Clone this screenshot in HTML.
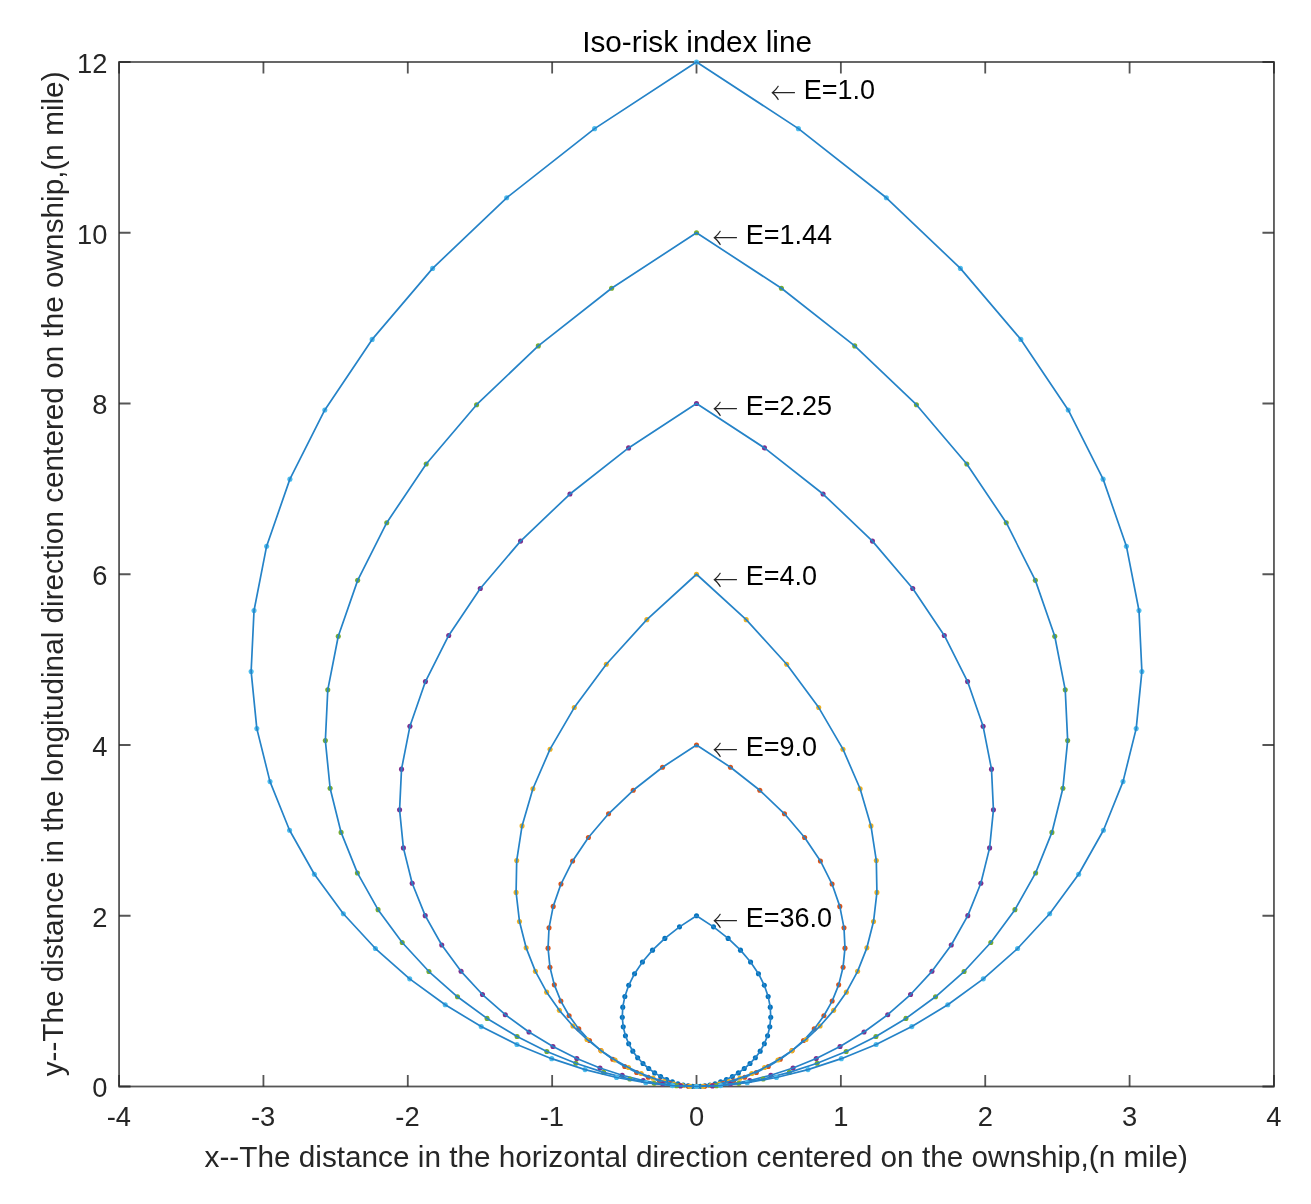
<!DOCTYPE html>
<html lang="en"><head><meta charset="utf-8"><title>Iso-risk index line</title>
<style>html,body{margin:0;padding:0;background:#fff}svg{display:block}</style></head>
<body>
<svg width="1311" height="1204" viewBox="0 0 1311 1204">
<rect width="1311" height="1204" fill="#fff"/>
<g stroke="#262626" stroke-opacity="0.78" stroke-width="1.8" fill="none" stroke-linecap="butt">
<rect x="119.07" y="62.00" width="1154.88" height="1024.50"/>
<path d="M119.07 1086.50v-11.50M119.07 62.00v11.50M263.43 1086.50v-11.50M263.43 62.00v11.50M407.79 1086.50v-11.50M407.79 62.00v11.50M552.15 1086.50v-11.50M552.15 62.00v11.50M696.51 1086.50v-11.50M696.51 62.00v11.50M840.87 1086.50v-11.50M840.87 62.00v11.50M985.23 1086.50v-11.50M985.23 62.00v11.50M1129.59 1086.50v-11.50M1129.59 62.00v11.50M1273.95 1086.50v-11.50M1273.95 62.00v11.50M119.07 1086.50h11.50M1273.95 1086.50h-11.50M119.07 915.75h11.50M1273.95 915.75h-11.50M119.07 745.00h11.50M1273.95 745.00h-11.50M119.07 574.25h11.50M1273.95 574.25h-11.50M119.07 403.50h11.50M1273.95 403.50h-11.50M119.07 232.75h11.50M1273.95 232.75h-11.50M119.07 62.00h11.50M1273.95 62.00h-11.50"/>
</g>
<g fill="#0072BD"><circle cx="696.51" cy="1086.50" r="2.55"/><circle cx="692.51" cy="1086.35" r="2.55"/><circle cx="688.05" cy="1085.87" r="2.55"/><circle cx="683.18" cy="1085.00" r="2.55"/><circle cx="677.93" cy="1083.68" r="2.55"/><circle cx="672.37" cy="1081.86" r="2.55"/><circle cx="666.57" cy="1079.49" r="2.55"/><circle cx="660.62" cy="1076.51" r="2.55"/><circle cx="654.63" cy="1072.88" r="2.55"/><circle cx="648.71" cy="1068.56" r="2.55"/><circle cx="643.00" cy="1063.51" r="2.55"/><circle cx="637.65" cy="1057.70" r="2.55"/><circle cx="632.82" cy="1051.13" r="2.55"/><circle cx="628.69" cy="1043.79" r="2.55"/><circle cx="625.43" cy="1035.68" r="2.55"/><circle cx="623.23" cy="1026.85" r="2.55"/><circle cx="622.28" cy="1017.32" r="2.55"/><circle cx="622.76" cy="1007.17" r="2.55"/><circle cx="624.86" cy="996.45" r="2.55"/><circle cx="628.74" cy="985.27" r="2.55"/><circle cx="634.56" cy="973.74" r="2.55"/><circle cx="642.45" cy="961.99" r="2.55"/><circle cx="652.53" cy="950.15" r="2.55"/><circle cx="664.87" cy="938.38" r="2.55"/><circle cx="679.53" cy="926.86" r="2.55"/><circle cx="696.51" cy="915.75" r="2.55"/><circle cx="713.49" cy="926.86" r="2.55"/><circle cx="728.15" cy="938.38" r="2.55"/><circle cx="740.49" cy="950.15" r="2.55"/><circle cx="750.57" cy="961.99" r="2.55"/><circle cx="758.46" cy="973.74" r="2.55"/><circle cx="764.28" cy="985.27" r="2.55"/><circle cx="768.16" cy="996.45" r="2.55"/><circle cx="770.26" cy="1007.17" r="2.55"/><circle cx="770.74" cy="1017.32" r="2.55"/><circle cx="769.79" cy="1026.85" r="2.55"/><circle cx="767.59" cy="1035.68" r="2.55"/><circle cx="764.33" cy="1043.79" r="2.55"/><circle cx="760.20" cy="1051.13" r="2.55"/><circle cx="755.37" cy="1057.70" r="2.55"/><circle cx="750.02" cy="1063.51" r="2.55"/><circle cx="744.31" cy="1068.56" r="2.55"/><circle cx="738.39" cy="1072.88" r="2.55"/><circle cx="732.40" cy="1076.51" r="2.55"/><circle cx="726.45" cy="1079.49" r="2.55"/><circle cx="720.65" cy="1081.86" r="2.55"/><circle cx="715.09" cy="1083.68" r="2.55"/><circle cx="709.84" cy="1085.00" r="2.55"/><circle cx="704.97" cy="1085.87" r="2.55"/><circle cx="700.51" cy="1086.35" r="2.55"/><circle cx="696.51" cy="1086.50" r="2.55"/></g>
<polyline fill="none" stroke="#2583c8" stroke-width="1.7" stroke-linejoin="round" points="696.51,1086.50 692.51,1086.35 688.05,1085.87 683.18,1085.00 677.93,1083.68 672.37,1081.86 666.57,1079.49 660.62,1076.51 654.63,1072.88 648.71,1068.56 643.00,1063.51 637.65,1057.70 632.82,1051.13 628.69,1043.79 625.43,1035.68 623.23,1026.85 622.28,1017.32 622.76,1007.17 624.86,996.45 628.74,985.27 634.56,973.74 642.45,961.99 652.53,950.15 664.87,938.38 679.53,926.86 696.51,915.75 713.49,926.86 728.15,938.38 740.49,950.15 750.57,961.99 758.46,973.74 764.28,985.27 768.16,996.45 770.26,1007.17 770.74,1017.32 769.79,1026.85 767.59,1035.68 764.33,1043.79 760.20,1051.13 755.37,1057.70 750.02,1063.51 744.31,1068.56 738.39,1072.88 732.40,1076.51 726.45,1079.49 720.65,1081.86 715.09,1083.68 709.84,1085.00 704.97,1085.87 700.51,1086.35 696.51,1086.50"/>
<g fill="#D95319"><circle cx="696.51" cy="1086.50" r="2.55"/><circle cx="688.50" cy="1086.20" r="2.55"/><circle cx="679.59" cy="1085.24" r="2.55"/><circle cx="669.85" cy="1083.49" r="2.55"/><circle cx="659.36" cy="1080.86" r="2.55"/><circle cx="648.24" cy="1077.22" r="2.55"/><circle cx="636.64" cy="1072.48" r="2.55"/><circle cx="624.74" cy="1066.53" r="2.55"/><circle cx="612.75" cy="1059.27" r="2.55"/><circle cx="600.90" cy="1050.62" r="2.55"/><circle cx="589.48" cy="1040.51" r="2.55"/><circle cx="578.78" cy="1028.90" r="2.55"/><circle cx="569.13" cy="1015.76" r="2.55"/><circle cx="560.86" cy="1001.07" r="2.55"/><circle cx="554.34" cy="984.87" r="2.55"/><circle cx="549.95" cy="967.20" r="2.55"/><circle cx="548.05" cy="948.15" r="2.55"/><circle cx="549.02" cy="927.83" r="2.55"/><circle cx="553.21" cy="906.40" r="2.55"/><circle cx="560.97" cy="884.05" r="2.55"/><circle cx="572.61" cy="860.99" r="2.55"/><circle cx="588.40" cy="837.47" r="2.55"/><circle cx="608.55" cy="813.79" r="2.55"/><circle cx="633.23" cy="790.26" r="2.55"/><circle cx="662.54" cy="767.21" r="2.55"/><circle cx="696.51" cy="745.00" r="2.55"/><circle cx="730.48" cy="767.21" r="2.55"/><circle cx="759.79" cy="790.26" r="2.55"/><circle cx="784.47" cy="813.79" r="2.55"/><circle cx="804.62" cy="837.47" r="2.55"/><circle cx="820.41" cy="860.99" r="2.55"/><circle cx="832.05" cy="884.05" r="2.55"/><circle cx="839.81" cy="906.40" r="2.55"/><circle cx="844.00" cy="927.83" r="2.55"/><circle cx="844.97" cy="948.15" r="2.55"/><circle cx="843.07" cy="967.20" r="2.55"/><circle cx="838.68" cy="984.87" r="2.55"/><circle cx="832.16" cy="1001.07" r="2.55"/><circle cx="823.89" cy="1015.76" r="2.55"/><circle cx="814.24" cy="1028.90" r="2.55"/><circle cx="803.54" cy="1040.51" r="2.55"/><circle cx="792.12" cy="1050.62" r="2.55"/><circle cx="780.27" cy="1059.27" r="2.55"/><circle cx="768.28" cy="1066.53" r="2.55"/><circle cx="756.38" cy="1072.48" r="2.55"/><circle cx="744.78" cy="1077.22" r="2.55"/><circle cx="733.66" cy="1080.86" r="2.55"/><circle cx="723.17" cy="1083.49" r="2.55"/><circle cx="713.43" cy="1085.24" r="2.55"/><circle cx="704.52" cy="1086.20" r="2.55"/><circle cx="696.51" cy="1086.50" r="2.55"/></g>
<polyline fill="none" stroke="#2583c8" stroke-width="1.7" stroke-linejoin="round" points="696.51,1086.50 688.50,1086.20 679.59,1085.24 669.85,1083.49 659.36,1080.86 648.24,1077.22 636.64,1072.48 624.74,1066.53 612.75,1059.27 600.90,1050.62 589.48,1040.51 578.78,1028.90 569.13,1015.76 560.86,1001.07 554.34,984.87 549.95,967.20 548.05,948.15 549.02,927.83 553.21,906.40 560.97,884.05 572.61,860.99 588.40,837.47 608.55,813.79 633.23,790.26 662.54,767.21 696.51,745.00 730.48,767.21 759.79,790.26 784.47,813.79 804.62,837.47 820.41,860.99 832.05,884.05 839.81,906.40 844.00,927.83 844.97,948.15 843.07,967.20 838.68,984.87 832.16,1001.07 823.89,1015.76 814.24,1028.90 803.54,1040.51 792.12,1050.62 780.27,1059.27 768.28,1066.53 756.38,1072.48 744.78,1077.22 733.66,1080.86 723.17,1083.49 713.43,1085.24 704.52,1086.20 696.51,1086.50"/>
<g fill="#EDB120"><circle cx="696.51" cy="1086.50" r="2.55"/><circle cx="690.00" cy="1086.26" r="2.55"/><circle cx="682.39" cy="1085.45" r="2.55"/><circle cx="673.69" cy="1083.93" r="2.55"/><circle cx="663.89" cy="1081.55" r="2.55"/><circle cx="653.03" cy="1078.14" r="2.55"/><circle cx="641.19" cy="1073.55" r="2.55"/><circle cx="628.48" cy="1067.57" r="2.55"/><circle cx="615.06" cy="1060.02" r="2.55"/><circle cx="601.15" cy="1050.71" r="2.55"/><circle cx="587.00" cy="1039.44" r="2.55"/><circle cx="572.94" cy="1026.04" r="2.55"/><circle cx="559.35" cy="1010.33" r="2.55"/><circle cx="546.68" cy="992.14" r="2.55"/><circle cx="535.42" cy="971.34" r="2.55"/><circle cx="526.15" cy="947.83" r="2.55"/><circle cx="519.49" cy="921.53" r="2.55"/><circle cx="516.10" cy="892.42" r="2.55"/><circle cx="516.70" cy="860.52" r="2.55"/><circle cx="522.05" cy="825.90" r="2.55"/><circle cx="532.91" cy="788.72" r="2.55"/><circle cx="550.06" cy="749.18" r="2.55"/><circle cx="574.28" cy="707.57" r="2.55"/><circle cx="606.31" cy="664.24" r="2.55"/><circle cx="646.84" cy="619.63" r="2.55"/><circle cx="696.51" cy="574.25" r="2.55"/><circle cx="746.18" cy="619.63" r="2.55"/><circle cx="786.71" cy="664.24" r="2.55"/><circle cx="818.74" cy="707.57" r="2.55"/><circle cx="842.96" cy="749.18" r="2.55"/><circle cx="860.11" cy="788.72" r="2.55"/><circle cx="870.97" cy="825.90" r="2.55"/><circle cx="876.32" cy="860.52" r="2.55"/><circle cx="876.92" cy="892.42" r="2.55"/><circle cx="873.53" cy="921.53" r="2.55"/><circle cx="866.87" cy="947.83" r="2.55"/><circle cx="857.60" cy="971.34" r="2.55"/><circle cx="846.34" cy="992.14" r="2.55"/><circle cx="833.67" cy="1010.33" r="2.55"/><circle cx="820.08" cy="1026.04" r="2.55"/><circle cx="806.02" cy="1039.44" r="2.55"/><circle cx="791.87" cy="1050.71" r="2.55"/><circle cx="777.96" cy="1060.02" r="2.55"/><circle cx="764.54" cy="1067.57" r="2.55"/><circle cx="751.83" cy="1073.55" r="2.55"/><circle cx="739.99" cy="1078.14" r="2.55"/><circle cx="729.13" cy="1081.55" r="2.55"/><circle cx="719.33" cy="1083.93" r="2.55"/><circle cx="710.63" cy="1085.45" r="2.55"/><circle cx="703.02" cy="1086.26" r="2.55"/><circle cx="696.51" cy="1086.50" r="2.55"/></g>
<polyline fill="none" stroke="#2583c8" stroke-width="1.7" stroke-linejoin="round" points="696.51,1086.50 690.00,1086.26 682.39,1085.45 673.69,1083.93 663.89,1081.55 653.03,1078.14 641.19,1073.55 628.48,1067.57 615.06,1060.02 601.15,1050.71 587.00,1039.44 572.94,1026.04 559.35,1010.33 546.68,992.14 535.42,971.34 526.15,947.83 519.49,921.53 516.10,892.42 516.70,860.52 522.05,825.90 532.91,788.72 550.06,749.18 574.28,707.57 606.31,664.24 646.84,619.63 696.51,574.25 746.18,619.63 786.71,664.24 818.74,707.57 842.96,749.18 860.11,788.72 870.97,825.90 876.32,860.52 876.92,892.42 873.53,921.53 866.87,947.83 857.60,971.34 846.34,992.14 833.67,1010.33 820.08,1026.04 806.02,1039.44 791.87,1050.71 777.96,1060.02 764.54,1067.57 751.83,1073.55 739.99,1078.14 729.13,1081.55 719.33,1083.93 710.63,1085.45 703.02,1086.26 696.51,1086.50"/>
<g fill="#7E2F8E"><circle cx="696.51" cy="1086.50" r="2.55"/><circle cx="680.49" cy="1085.90" r="2.55"/><circle cx="662.68" cy="1083.97" r="2.55"/><circle cx="643.19" cy="1080.48" r="2.55"/><circle cx="622.21" cy="1075.22" r="2.55"/><circle cx="599.97" cy="1067.95" r="2.55"/><circle cx="576.77" cy="1058.46" r="2.55"/><circle cx="552.96" cy="1046.55" r="2.55"/><circle cx="528.98" cy="1032.03" r="2.55"/><circle cx="505.30" cy="1014.73" r="2.55"/><circle cx="482.46" cy="994.53" r="2.55"/><circle cx="461.06" cy="971.31" r="2.55"/><circle cx="441.75" cy="945.01" r="2.55"/><circle cx="425.21" cy="915.64" r="2.55"/><circle cx="412.18" cy="883.24" r="2.55"/><circle cx="403.39" cy="847.90" r="2.55"/><circle cx="399.59" cy="809.80" r="2.55"/><circle cx="401.52" cy="769.16" r="2.55"/><circle cx="409.91" cy="726.31" r="2.55"/><circle cx="425.44" cy="681.59" r="2.55"/><circle cx="448.71" cy="635.47" r="2.55"/><circle cx="480.28" cy="588.45" r="2.55"/><circle cx="520.58" cy="541.09" r="2.55"/><circle cx="569.95" cy="494.02" r="2.55"/><circle cx="628.58" cy="447.92" r="2.55"/><circle cx="696.51" cy="403.50" r="2.55"/><circle cx="764.44" cy="447.92" r="2.55"/><circle cx="823.07" cy="494.02" r="2.55"/><circle cx="872.44" cy="541.09" r="2.55"/><circle cx="912.74" cy="588.45" r="2.55"/><circle cx="944.31" cy="635.47" r="2.55"/><circle cx="967.58" cy="681.59" r="2.55"/><circle cx="983.11" cy="726.31" r="2.55"/><circle cx="991.50" cy="769.16" r="2.55"/><circle cx="993.43" cy="809.80" r="2.55"/><circle cx="989.63" cy="847.90" r="2.55"/><circle cx="980.84" cy="883.24" r="2.55"/><circle cx="967.81" cy="915.64" r="2.55"/><circle cx="951.27" cy="945.01" r="2.55"/><circle cx="931.96" cy="971.31" r="2.55"/><circle cx="910.56" cy="994.53" r="2.55"/><circle cx="887.72" cy="1014.73" r="2.55"/><circle cx="864.04" cy="1032.03" r="2.55"/><circle cx="840.06" cy="1046.55" r="2.55"/><circle cx="816.25" cy="1058.46" r="2.55"/><circle cx="793.05" cy="1067.95" r="2.55"/><circle cx="770.81" cy="1075.22" r="2.55"/><circle cx="749.83" cy="1080.48" r="2.55"/><circle cx="730.34" cy="1083.97" r="2.55"/><circle cx="712.53" cy="1085.90" r="2.55"/><circle cx="696.51" cy="1086.50" r="2.55"/></g>
<polyline fill="none" stroke="#2583c8" stroke-width="1.7" stroke-linejoin="round" points="696.51,1086.50 680.49,1085.90 662.68,1083.97 643.19,1080.48 622.21,1075.22 599.97,1067.95 576.77,1058.46 552.96,1046.55 528.98,1032.03 505.30,1014.73 482.46,994.53 461.06,971.31 441.75,945.01 425.21,915.64 412.18,883.24 403.39,847.90 399.59,809.80 401.52,769.16 409.91,726.31 425.44,681.59 448.71,635.47 480.28,588.45 520.58,541.09 569.95,494.02 628.58,447.92 696.51,403.50 764.44,447.92 823.07,494.02 872.44,541.09 912.74,588.45 944.31,635.47 967.58,681.59 983.11,726.31 991.50,769.16 993.43,809.80 989.63,847.90 980.84,883.24 967.81,915.64 951.27,945.01 931.96,971.31 910.56,994.53 887.72,1014.73 864.04,1032.03 840.06,1046.55 816.25,1058.46 793.05,1067.95 770.81,1075.22 749.83,1080.48 730.34,1083.97 712.53,1085.90 696.51,1086.50"/>
<g fill="#77AC30"><circle cx="696.51" cy="1086.50" r="2.55"/><circle cx="676.49" cy="1085.75" r="2.55"/><circle cx="654.22" cy="1083.34" r="2.55"/><circle cx="629.86" cy="1078.98" r="2.55"/><circle cx="603.63" cy="1072.40" r="2.55"/><circle cx="575.83" cy="1063.31" r="2.55"/><circle cx="546.83" cy="1051.45" r="2.55"/><circle cx="517.08" cy="1036.57" r="2.55"/><circle cx="487.10" cy="1018.41" r="2.55"/><circle cx="457.49" cy="996.79" r="2.55"/><circle cx="428.94" cy="971.53" r="2.55"/><circle cx="402.20" cy="942.51" r="2.55"/><circle cx="378.06" cy="909.64" r="2.55"/><circle cx="357.39" cy="872.93" r="2.55"/><circle cx="341.10" cy="832.42" r="2.55"/><circle cx="330.11" cy="788.25" r="2.55"/><circle cx="325.36" cy="740.62" r="2.55"/><circle cx="327.78" cy="689.83" r="2.55"/><circle cx="338.26" cy="636.26" r="2.55"/><circle cx="357.67" cy="580.37" r="2.55"/><circle cx="386.76" cy="522.71" r="2.55"/><circle cx="426.22" cy="463.93" r="2.55"/><circle cx="476.60" cy="404.73" r="2.55"/><circle cx="538.31" cy="345.90" r="2.55"/><circle cx="611.59" cy="288.28" r="2.55"/><circle cx="696.51" cy="232.75" r="2.55"/><circle cx="781.43" cy="288.28" r="2.55"/><circle cx="854.71" cy="345.90" r="2.55"/><circle cx="916.42" cy="404.73" r="2.55"/><circle cx="966.80" cy="463.93" r="2.55"/><circle cx="1006.26" cy="522.71" r="2.55"/><circle cx="1035.35" cy="580.37" r="2.55"/><circle cx="1054.76" cy="636.26" r="2.55"/><circle cx="1065.24" cy="689.83" r="2.55"/><circle cx="1067.66" cy="740.62" r="2.55"/><circle cx="1062.91" cy="788.25" r="2.55"/><circle cx="1051.92" cy="832.42" r="2.55"/><circle cx="1035.63" cy="872.93" r="2.55"/><circle cx="1014.96" cy="909.64" r="2.55"/><circle cx="990.82" cy="942.51" r="2.55"/><circle cx="964.08" cy="971.53" r="2.55"/><circle cx="935.53" cy="996.79" r="2.55"/><circle cx="905.92" cy="1018.41" r="2.55"/><circle cx="875.94" cy="1036.57" r="2.55"/><circle cx="846.19" cy="1051.45" r="2.55"/><circle cx="817.19" cy="1063.31" r="2.55"/><circle cx="789.39" cy="1072.40" r="2.55"/><circle cx="763.16" cy="1078.98" r="2.55"/><circle cx="738.80" cy="1083.34" r="2.55"/><circle cx="716.53" cy="1085.75" r="2.55"/><circle cx="696.51" cy="1086.50" r="2.55"/></g>
<polyline fill="none" stroke="#2583c8" stroke-width="1.7" stroke-linejoin="round" points="696.51,1086.50 676.49,1085.75 654.22,1083.34 629.86,1078.98 603.63,1072.40 575.83,1063.31 546.83,1051.45 517.08,1036.57 487.10,1018.41 457.49,996.79 428.94,971.53 402.20,942.51 378.06,909.64 357.39,872.93 341.10,832.42 330.11,788.25 325.36,740.62 327.78,689.83 338.26,636.26 357.67,580.37 386.76,522.71 426.22,463.93 476.60,404.73 538.31,345.90 611.59,288.28 696.51,232.75 781.43,288.28 854.71,345.90 916.42,404.73 966.80,463.93 1006.26,522.71 1035.35,580.37 1054.76,636.26 1065.24,689.83 1067.66,740.62 1062.91,788.25 1051.92,832.42 1035.63,872.93 1014.96,909.64 990.82,942.51 964.08,971.53 935.53,996.79 905.92,1018.41 875.94,1036.57 846.19,1051.45 817.19,1063.31 789.39,1072.40 763.16,1078.98 738.80,1083.34 716.53,1085.75 696.51,1086.50"/>
<g fill="#4DBEEE"><circle cx="696.51" cy="1086.50" r="2.55"/><circle cx="672.48" cy="1085.61" r="2.55"/><circle cx="645.76" cy="1082.71" r="2.55"/><circle cx="616.53" cy="1077.48" r="2.55"/><circle cx="585.05" cy="1069.58" r="2.55"/><circle cx="551.69" cy="1058.67" r="2.55"/><circle cx="516.90" cy="1044.44" r="2.55"/><circle cx="481.19" cy="1026.58" r="2.55"/><circle cx="445.22" cy="1004.80" r="2.55"/><circle cx="409.69" cy="978.85" r="2.55"/><circle cx="375.43" cy="948.54" r="2.55"/><circle cx="343.33" cy="913.71" r="2.55"/><circle cx="314.37" cy="874.27" r="2.55"/><circle cx="289.57" cy="830.21" r="2.55"/><circle cx="270.01" cy="781.61" r="2.55"/><circle cx="256.83" cy="728.60" r="2.55"/><circle cx="251.13" cy="671.45" r="2.55"/><circle cx="254.03" cy="610.50" r="2.55"/><circle cx="266.62" cy="546.21" r="2.55"/><circle cx="289.90" cy="479.14" r="2.55"/><circle cx="324.81" cy="409.96" r="2.55"/><circle cx="372.17" cy="339.42" r="2.55"/><circle cx="432.62" cy="268.38" r="2.55"/><circle cx="506.67" cy="197.78" r="2.55"/><circle cx="594.61" cy="128.63" r="2.55"/><circle cx="696.51" cy="62.00" r="2.55"/><circle cx="798.41" cy="128.63" r="2.55"/><circle cx="886.35" cy="197.78" r="2.55"/><circle cx="960.40" cy="268.38" r="2.55"/><circle cx="1020.85" cy="339.42" r="2.55"/><circle cx="1068.21" cy="409.96" r="2.55"/><circle cx="1103.12" cy="479.14" r="2.55"/><circle cx="1126.40" cy="546.21" r="2.55"/><circle cx="1138.99" cy="610.50" r="2.55"/><circle cx="1141.89" cy="671.45" r="2.55"/><circle cx="1136.19" cy="728.60" r="2.55"/><circle cx="1123.01" cy="781.61" r="2.55"/><circle cx="1103.45" cy="830.21" r="2.55"/><circle cx="1078.65" cy="874.27" r="2.55"/><circle cx="1049.69" cy="913.71" r="2.55"/><circle cx="1017.59" cy="948.54" r="2.55"/><circle cx="983.33" cy="978.85" r="2.55"/><circle cx="947.80" cy="1004.80" r="2.55"/><circle cx="911.83" cy="1026.58" r="2.55"/><circle cx="876.12" cy="1044.44" r="2.55"/><circle cx="841.33" cy="1058.67" r="2.55"/><circle cx="807.97" cy="1069.58" r="2.55"/><circle cx="776.49" cy="1077.48" r="2.55"/><circle cx="747.26" cy="1082.71" r="2.55"/><circle cx="720.54" cy="1085.61" r="2.55"/><circle cx="696.51" cy="1086.50" r="2.55"/></g>
<polyline fill="none" stroke="#2583c8" stroke-width="1.7" stroke-linejoin="round" points="696.51,1086.50 672.48,1085.61 645.76,1082.71 616.53,1077.48 585.05,1069.58 551.69,1058.67 516.90,1044.44 481.19,1026.58 445.22,1004.80 409.69,978.85 375.43,948.54 343.33,913.71 314.37,874.27 289.57,830.21 270.01,781.61 256.83,728.60 251.13,671.45 254.03,610.50 266.62,546.21 289.90,479.14 324.81,409.96 372.17,339.42 432.62,268.38 506.67,197.78 594.61,128.63 696.51,62.00 798.41,128.63 886.35,197.78 960.40,268.38 1020.85,339.42 1068.21,409.96 1103.12,479.14 1126.40,546.21 1138.99,610.50 1141.89,671.45 1136.19,728.60 1123.01,781.61 1103.45,830.21 1078.65,874.27 1049.69,913.71 1017.59,948.54 983.33,978.85 947.80,1004.80 911.83,1026.58 876.12,1044.44 841.33,1058.67 807.97,1069.58 776.49,1077.48 747.26,1082.71 720.54,1085.61 696.51,1086.50"/>
<g font-family="'Liberation Sans', Arial, sans-serif" font-size="27.3" fill="#262626">
<text x="118.77" y="1126.2" text-anchor="middle">-4</text>
<text x="263.13" y="1126.2" text-anchor="middle">-3</text>
<text x="407.49" y="1126.2" text-anchor="middle">-2</text>
<text x="551.85" y="1126.2" text-anchor="middle">-1</text>
<text x="696.51" y="1126.2" text-anchor="middle">0</text>
<text x="840.87" y="1126.2" text-anchor="middle">1</text>
<text x="985.23" y="1126.2" text-anchor="middle">2</text>
<text x="1129.59" y="1126.2" text-anchor="middle">3</text>
<text x="1273.95" y="1126.2" text-anchor="middle">4</text>
<text x="107.4" y="1097.40" text-anchor="end">0</text>
<text x="107.4" y="926.65" text-anchor="end">2</text>
<text x="107.4" y="755.90" text-anchor="end">4</text>
<text x="107.4" y="585.15" text-anchor="end">6</text>
<text x="107.4" y="414.40" text-anchor="end">8</text>
<text x="107.4" y="243.65" text-anchor="end">10</text>
<text x="107.4" y="72.90" text-anchor="end">12</text>
</g>
<g font-family="'Liberation Sans', Arial, sans-serif" fill="#262626">
<text x="696.3" y="1166.6" font-size="29.74" text-anchor="middle">x--The distance in the horizontal direction centered on the ownship,(n mile)</text>
<text transform="translate(62.6 573.9) rotate(-90)" font-size="29.74" text-anchor="middle">y--The distance in the longitudinal direction centered on the ownship,(n mile)</text>
<text x="697.1" y="51.9" font-size="29.75" text-anchor="middle" fill="#000">Iso-risk index line</text>
</g>
<g font-family="'Liberation Sans', Arial, sans-serif" font-size="27" fill="#000">
<text transform="translate(770.40 103.90) scale(0.98 1.15)" font-family="'Noto Serif CJK SC', 'DejaVu Sans', serif" font-size="26" fill="#262626">←</text><text x="803.70" y="98.70">E=1.0</text>
<text transform="translate(712.40 249.00) scale(0.98 1.15)" font-family="'Noto Serif CJK SC', 'DejaVu Sans', serif" font-size="26" fill="#262626">←</text><text x="745.70" y="243.80">E=1.44</text>
<text transform="translate(712.40 419.75) scale(0.98 1.15)" font-family="'Noto Serif CJK SC', 'DejaVu Sans', serif" font-size="26" fill="#262626">←</text><text x="745.70" y="414.55">E=2.25</text>
<text transform="translate(712.40 590.50) scale(0.98 1.15)" font-family="'Noto Serif CJK SC', 'DejaVu Sans', serif" font-size="26" fill="#262626">←</text><text x="745.70" y="585.30">E=4.0</text>
<text transform="translate(712.40 761.25) scale(0.98 1.15)" font-family="'Noto Serif CJK SC', 'DejaVu Sans', serif" font-size="26" fill="#262626">←</text><text x="745.70" y="756.05">E=9.0</text>
<text transform="translate(712.40 932.00) scale(0.98 1.15)" font-family="'Noto Serif CJK SC', 'DejaVu Sans', serif" font-size="26" fill="#262626">←</text><text x="745.70" y="926.80">E=36.0</text>
</g>
</svg>
</body></html>
